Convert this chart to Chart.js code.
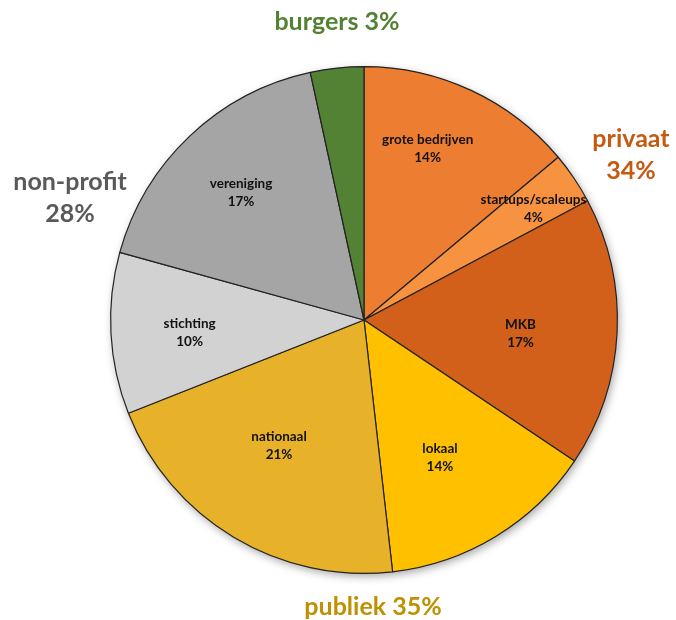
<!DOCTYPE html>
<html><head><meta charset="utf-8">
<script src="https://cdn.jsdelivr.net/npm/chart.js@4"></script>
<style>html,body{margin:0;padding:0;background:#fff;}#wrap{width:676px;height:620px;position:relative;}</style>
</head><body><div id="wrap"><canvas id="c" width="676" height="620"></canvas></div>
<script>
const categories = ["grote bedrijven","startups/scaleups","MKB","lokaal","nationaal","stichting","vereniging","burgers"];
const values = [13.9, 3.3, 17.2, 13.8, 20.8, 10.3, 17.3, 3.4];
const percentLabels = ["14%","4%","17%","14%","21%","10%","17%",""];
const sliceColors = ["#ED7D31","#F69240","#D2601A","#FFC000","#E8B12A","#D2D2D2","#A5A5A5","#548235"];
const groupLabels = [["burgers 3%"],["privaat","34%"],["non-profit","28%"],["publiek 35%"]];
const groupColors = ["#548235","#C55A11","#595959","#BF9000"];
// label placement (radius fraction, angle offset in degrees) per slice
const labelRadius = [0.72,0.80,0.62,0.62,0.60,0.69,0.70,0.7];
const labelAngleOff = [-4.6,0.7,2,2.4,3,-1,-0.5,0];
const groupPos = [[337,22],[631,139],[70,182],[373,607]];

const FONT = "Lato, 'Open Sans', sans-serif";

const shadowPlugin = {
  id:'shadow',
  beforeDatasetsDraw(chart){
    const arc = chart.getDatasetMeta(0).data[0];
    if(!arc) return;
    const ctx = chart.ctx;
    ctx.save();
    ctx.shadowColor='rgba(0,0,0,0.35)';
    ctx.shadowBlur=8; ctx.shadowOffsetX=2; ctx.shadowOffsetY=3;
    ctx.beginPath(); ctx.arc(arc.x, arc.y, arc.outerRadius, 0, Math.PI*2);
    ctx.fillStyle='#fff'; ctx.fill();
    ctx.restore();
  }
};
const labelPlugin = {
  id:'labels',
  afterDatasetsDraw(chart){
    const ctx = chart.ctx;
    const meta = chart.getDatasetMeta(0);
    ctx.save();
    ctx.textAlign='center'; ctx.textBaseline='middle';
    meta.data.forEach((arc,i)=>{
      if(!percentLabels[i]) return;
      const mid = (arc.startAngle+arc.endAngle)/2 + labelAngleOff[i]*Math.PI/180;
      const r = arc.outerRadius*labelRadius[i];
      const x = arc.x + Math.cos(mid)*r, y = arc.y + Math.sin(mid)*r;
      ctx.fillStyle='#111';
      ctx.font = "bold 13.5px "+FONT;
      ctx.fillText(categories[i], x, y-9);
      ctx.fillText(percentLabels[i], x, y+9);
    });
    groupLabels.forEach((lines,g)=>{
      ctx.fillStyle=groupColors[g];
      ctx.font="bold 25px "+FONT;
      lines.forEach((t,k)=>ctx.fillText(t, groupPos[g][0], groupPos[g][1]+k*32));
    });
    ctx.restore();
  }
};

new Chart(document.getElementById('c'),{
  type:'pie',
  data:{labels:categories,datasets:[{data:values,backgroundColor:sliceColors,borderColor:'#222',borderWidth:1.2}]},
  options:{
    responsive:false,animation:false,
    layout:{padding:{top:66,bottom:46,left:110,right:58}},
    plugins:{legend:{display:false},tooltip:{enabled:false}}
  },
  plugins:[shadowPlugin,labelPlugin]
});
</script></body></html>
